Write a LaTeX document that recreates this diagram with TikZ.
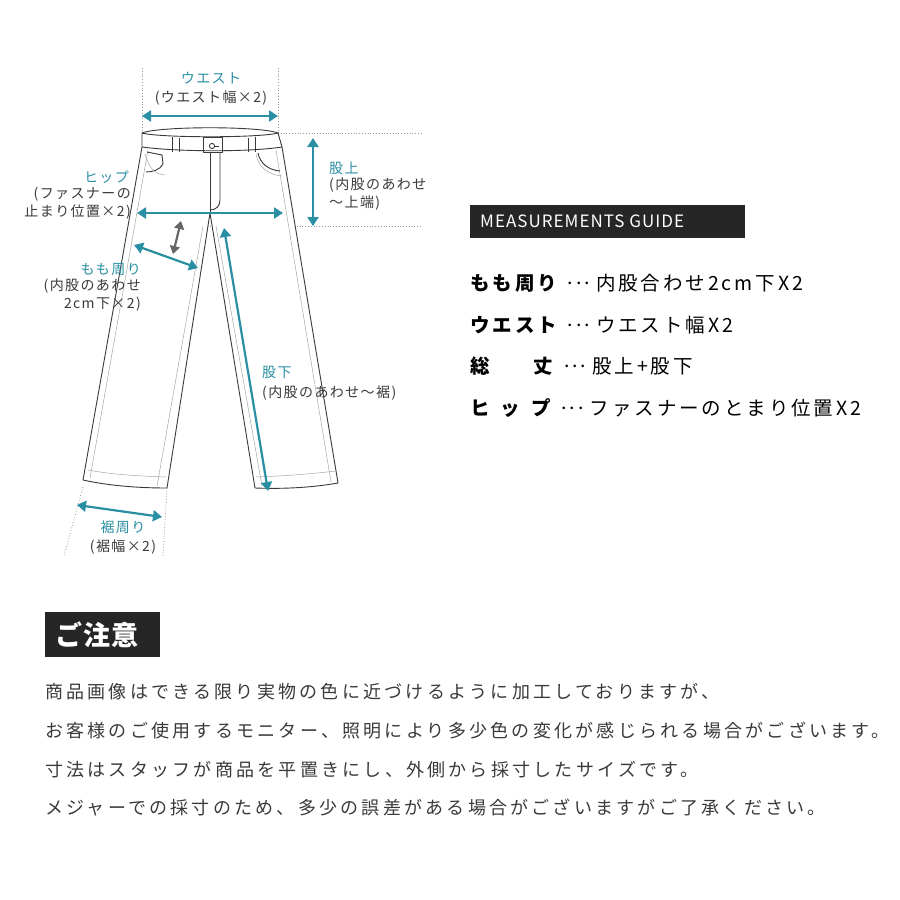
\documentclass[tikz,border=0pt]{standalone}
\usepackage{fontspec}
\setmainfont{Noto Sans CJK JP}
\usetikzlibrary{arrows.meta}
\definecolor{teal1}{HTML}{2A8FA3}
\definecolor{ink}{HTML}{3A3A3A}
\newcommand{\tl}{\char"FF5E\relax}
\newcommand{\myell}{\hspace{8pt}\raisebox{0.3em}{...}\hspace{6pt}}
\tikzset{
 ol/.style={draw=ink,line width=0.9pt,line join=round},
 thin/.style={draw=gray!70,line width=0.5pt},
 dots/.style={draw=gray!80,line width=0.8pt,dotted},
 meas/.style={draw=teal1,line width=2.2pt,{Triangle[length=9pt,width=11pt]}-{Triangle[length=9pt,width=11pt]}},
 lab/.style={text=teal1,font=\fontsize{14}{15}\selectfont\addfontfeature{LetterSpace=10},inner sep=0pt},
 sub/.style={text=ink,font=\fontsize{14}{15}\selectfont\addfontfeature{LetterSpace=10},inner sep=0pt,align=center},
 guide/.style={font=\fontsize{19.5}{20}\selectfont\addfontfeature{LetterSpace=15},anchor=west,inner sep=0pt},
 note/.style={font=\fontsize{18}{19}\selectfont\addfontfeature{LetterSpace=18},anchor=west,inner sep=0pt,text=ink},
}
\begin{document}
\begin{tikzpicture}[x=1pt,y=-1pt]
\useasboundingbox (0,0) rectangle (900,900);
\fill[white] (0,0) rectangle (900,900);
% dotted guides
\draw[dots] (142,68) -- (142,133);
\draw[dots] (278,68) -- (278,133);
\draw[dots] (278,133) -- (422,133);
\draw[dots] (210,226) -- (422,226);
\draw[dots] (150,218) -- (210,226);
\draw[dots] (83,487) -- (64,556);
\draw[dots] (167,488) -- (163,556);
% pants
\coordinate (wl) at (142,147); \coordinate (wr) at (282,147);
\coordinate (cr) at (210,213);
\draw[ol,fill=white] (142,133) .. controls (160,126) and (260,126) .. (278,133) -- (282,147)
  -- (338,483) .. controls (310,488) and (280,489) .. (255,488) -- (cr)
  -- (167,488) .. controls (140,488) and (110,486) .. (83,480) -- (wl) -- cycle;
\draw[ol] (142,133) .. controls (160,138) and (260,138) .. (278,133);
\draw[ol] (wl) .. controls (180,152) and (250,152) .. (wr);
\draw[thin] (148,150) -- (90,478);
\draw[thin] (276,150) -- (331,482);
\draw[thin] (88,470) .. controls (115,475) and (140,476) .. (166,477);
\draw[thin] (256,477) .. controls (285,476) and (310,474) .. (336,471);
\draw[thin] (203,226) -- (157,486);
\draw[thin] (216,226) -- (262,486);
% belt loops
\draw[ol] (172,137) -- (172,152) (179,138) -- (179,152);
\draw[ol] (248,138) -- (248,152) (255,137) -- (255,152);
% fly & button
\draw[ol] (203,137) rectangle (222,152);
\draw[ol] (212,146) circle (2.6);
\draw[ol] (214.6,146) -- (219,146);
\draw[ol] (210,152) -- (cr);
\draw[ol] (220,152) -- (220,200) .. controls (220,206) and (216,210) .. (210,210);
% pockets
\draw[ol] (147,152) -- (162,155) -- (163,164) .. controls (160,170) and (152,172) .. (146,172);
\draw[thin] (145,154) .. controls (150,170) and (155,174) .. (165,175);
\draw[ol] (258,153) .. controls (260,163) and (268,170) .. (280,171);
\draw[thin] (256,154) .. controls (258,168) and (270,175) .. (282,176);
% measurement arrows
\coordinate (wa1) at (142,116); \coordinate (wa2) at (278,116);
\draw[meas] (wa1) -- (wa2);
\coordinate (h1) at (137,213); \coordinate (h2) at (283,213);
\draw[meas] (h1) -- (h2);
\coordinate (r1) at (313,138); \coordinate (r2) at (313,226);
\draw[meas] (r1) -- (r2);
\coordinate (t1) at (134,245); \coordinate (t2) at (198,268);
\draw[meas] (t1) -- (t2);
\coordinate (g1) at (181,221); \coordinate (g2) at (173,254);
\draw[draw=gray!80!black,line width=2.2pt,{Triangle[length=8pt,width=10pt]}-{Triangle[length=8pt,width=10pt]}] (g1) -- (g2);
\coordinate (i1) at (224,228); \coordinate (i2) at (268,491);
\draw[meas] (i1) -- (i2);
\coordinate (s1) at (77,505); \coordinate (s2) at (162,517);
\draw[meas] (s1) -- (s2);
% labels
\node[lab] (lw) at (211,78) {ウエスト};
\node[sub] (lw2) at (211,98) {(ウエスト幅×2)};
\node[lab,anchor=west] (lr) at (329,168) {股上};
\node[sub,anchor=north west,align=left] (lr2) at (329,178) {(内股のあわせ\\[3pt]\tl 上端)};
\node[lab,anchor=east] (lh) at (129,177) {ヒップ};
\node[sub,anchor=north east,align=right] (lh2) at (131,187) {(ファスナーの\\[3pt]止まり位置×2)};
\node[lab,anchor=east] (lt) at (141,270) {もも周り};
\node[sub,anchor=north east,align=right] (lt2) at (141,279) {(内股のあわせ\\[3pt]2cm下×2)};
\node[lab,anchor=west] (li) at (262,372) {股下};
\node[sub,anchor=west] (li2) at (262,393) {(内股のあわせ\tl 裾)};
\node[lab] (ls) at (123,527) {裾周り};
\node[sub] (ls2) at (123,547) {(裾幅×2)};
% guide
\node[fill=black!85,minimum width=275pt,minimum height=33pt,anchor=north west,inner sep=0pt] (gb) at (470,205) {};
\node[text=white,font=\fontsize{17}{18}\selectfont\addfontfeature{LetterSpace=6},anchor=west,inner sep=0pt] (gbt) at (480,221.5) {MEASUREMENTS GUIDE};
\node[guide] (g1t) at (470,283) {\textbf{もも周り}\myell 内股合わせ2cm下X2};
\node[guide] (g2t) at (470,325) {\textbf{ウエスト}\myell ウエスト幅X2};
\node[guide] (g3t) at (470,366) {\textbf{総\hspace{44pt}丈}\myell 股上+股下};
\node[guide] (g4t) at (470,408) {\textbf{ヒ\hspace{11pt}ッ\hspace{11pt}プ}\myell ファスナーのとまり位置X2};
% notice
\node[fill=black!85,minimum width=115pt,minimum height=45pt,anchor=north west,inner sep=0pt] (nb) at (45,612) {};
\node[text=white,font=\fontsize{27}{28}\selectfont\bfseries\addfontfeature{LetterSpace=4},anchor=west,inner sep=0pt] (nbt) at (55,634.5) {ご注意};
\node[note] (n1) at (45,692) {商品画像はできる限り実物の色に近づけるように加工しておりますが、};
\node[note] (n2) at (45,731) {お客様のご使用するモニター、照明により多少色の変化が感じられる場合がございます。};
\node[note] (n3) at (45,770) {寸法はスタッフが商品を平置きにし、外側から採寸したサイズです。};
\node[note] (n4) at (45,808) {メジャーでの採寸のため、多少の誤差がある場合がございますがご了承ください。};
\end{tikzpicture}
\end{document}
